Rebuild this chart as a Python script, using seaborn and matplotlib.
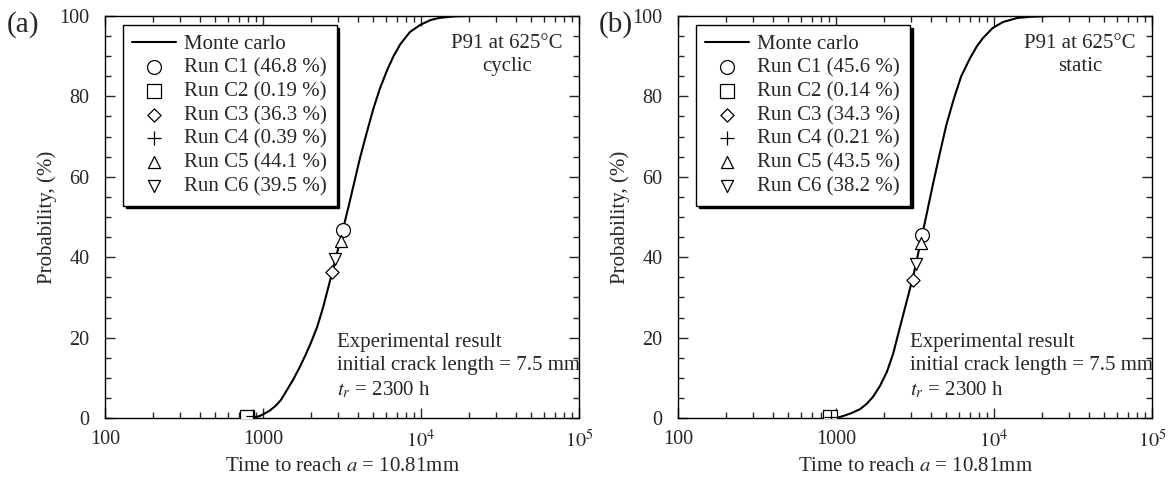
import matplotlib
matplotlib.use("Agg")
import matplotlib.pyplot as plt
import matplotlib.ticker as mticker
import seaborn as sns

# Monte carlo curves
mc_time_a = [830, 900, 950, 1000, 1100, 1200, 1300, 1420, 1550, 1700, 1850, 2000, 2200,
             2400, 2650, 2900, 3200, 3500, 3800, 4100, 4500, 5000, 5500, 6100, 6700,
             7400, 8500, 9900, 11500, 13000, 16000, 19500, 30000]
mc_prob_a = [0, 0.15, 0.5, 0.9, 1.8, 3.0, 4.5, 7.0, 9.5, 12.5, 15.5, 18.5, 22.6,
             27.5, 34, 40, 46.8, 53, 59, 64.5, 70.5, 77, 82, 86.5, 90,
             93, 96, 97.8, 99, 99.5, 99.9, 100, 100]

mc_time_b = [1000, 1060, 1150, 1250, 1420, 1560, 1710, 1900, 2100, 2300, 2540, 2800,
             3070, 3400, 3760, 4100, 4550, 5000, 5580, 6200, 7050, 7800, 8510, 9800,
             11400, 14000, 16900, 22600, 30000]
mc_prob_b = [0, 0.25, 0.7, 1.2, 2.2, 3.5, 5.2, 8, 11.5, 16, 22.6, 29,
             35, 43, 51, 58, 66, 73, 79.5, 85, 89.5, 92.5, 94.5, 97,
             98.5, 99.5, 99.8, 100, 100]

# experimental runs
run_names = ['Run C1', 'Run C2', 'Run C3', 'Run C4', 'Run C5', 'Run C6']
run_markers = ['o', 's', 'D', '+', '^', 'v']
run_sizes = [100, 100, 45, 100, 75, 75]
run_time_a = [3200, 794, 2735, 865, 3120, 2860]
run_prob_a = [46.8, 0.19, 36.3, 0.39, 44.1, 39.5]
run_time_b = [3500, 916, 3070, 930, 3450, 3210]
run_prob_b = [45.6, 0.14, 34.3, 0.21, 43.5, 38.2]

panels = [
    ('(a)', 'cyclic', mc_time_a, mc_prob_a, run_time_a, run_prob_a),
    ('(b)', 'static', mc_time_b, mc_prob_b, run_time_b, run_prob_b),
]

sns.set_style('ticks')
plt.rcParams['font.family'] = ['Liberation Serif', 'DejaVu Serif']
plt.rcParams['mathtext.fontset'] = 'stix'
plt.rcParams['font.size'] = 15

fig = plt.figure(figsize=(11.74, 4.8), dpi=100)
lefts = [105 / 1174, 678 / 1174]
tag_x = [7 / 1174, 599 / 1174]

for i, (tag, mode, mt, mp, rt, rp) in enumerate(panels):
    ax = fig.add_axes([lefts[i], 62 / 480, 474 / 1174, 402 / 480])
    sns.lineplot(x=mt, y=mp, color='black', linewidth=1.5, ax=ax, label='Monte carlo', sort=False)
    for name, m, sz, t, p in zip(run_names, run_markers, run_sizes, rt, rp):
        lab = f'{name} ({p} %)'
        if m == '+':
            sns.scatterplot(x=[t], y=[p], marker=m, s=sz, color='black', linewidth=0.9,
                            ax=ax, label=lab, zorder=3)
        else:
            sns.scatterplot(x=[t], y=[p], marker=m, s=sz, color='white', edgecolor='black',
                            linewidth=0.9, ax=ax, label=lab, zorder=3)

    ax.set_xscale('log')
    ax.set_xlim(100, 1e5)
    ax.set_ylim(0, 100)
    ax.xaxis.set_major_locator(mticker.FixedLocator([100, 1000, 1e4, 1e5]))
    ax.xaxis.set_major_formatter(mticker.FixedFormatter(['100', '1000', '$10^4$', '$10^5$']))
    ax.xaxis.set_minor_locator(mticker.LogLocator(base=10, subs=range(2, 10)))
    ax.xaxis.set_minor_formatter(mticker.NullFormatter())
    ax.yaxis.set_major_locator(mticker.MultipleLocator(20))
    ax.yaxis.set_minor_locator(mticker.MultipleLocator(5))
    ax.tick_params(which='both', direction='in', top=True, right=True, labelsize=14.5, width=1)
    ax.tick_params(which='major', length=7)
    ax.tick_params(which='minor', length=4)
    ax.tick_params(axis='x', which='major', pad=9)
    ax.tick_params(axis='y', which='major', pad=11)
    for s in ax.spines.values():
        s.set_linewidth(1)
        s.set_color('black')

    ax.set_xlabel('Time to reach $a$ = 10.81mm', fontsize=15, labelpad=3)
    ax.set_ylabel('Probability, (%)', fontsize=15, labelpad=2)

    ax.text(0.848, 0.955, 'P91 at 625°C\n' + mode, transform=ax.transAxes, ha='center',
            va='top', fontsize=15, linespacing=1.3)
    ax.text(0.49, 0.127, 'Experimental result\ninitial crack length = 7.5 mm\n$t_r$ = 2300 h',
            transform=ax.transAxes, ha='left', va='center', fontsize=15, linespacing=1.3)
    fig.text(tag_x[i], 0.948, tag, fontsize=21, ha='left', va='center')

    leg = ax.legend(loc='upper left', bbox_to_anchor=(0.038, 0.978), fancybox=False,
                    shadow={'color': 'black', 'alpha': 1}, edgecolor='black', framealpha=1,
                    fontsize=15, handlelength=2.1, handletextpad=0.4, borderpad=0.45,
                    labelspacing=0.2, borderaxespad=0)
    leg.get_frame().set_linewidth(1)

fig.savefig('out.png', dpi=100)
